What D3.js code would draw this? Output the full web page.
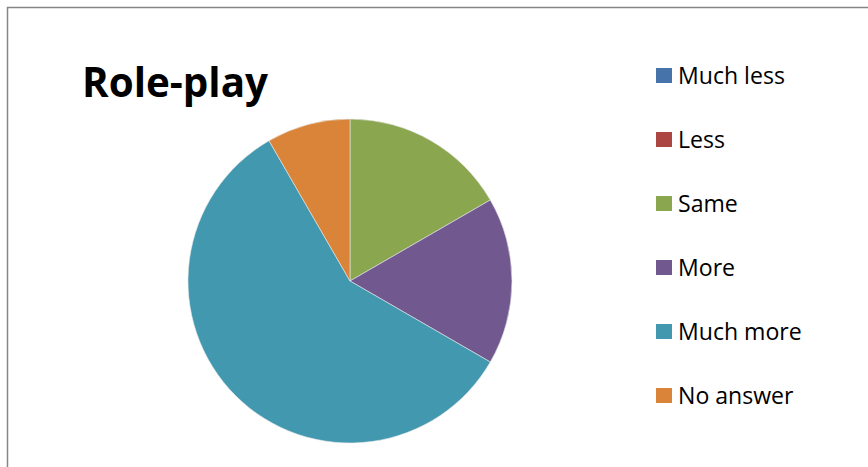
<!DOCTYPE html>
<html>
<head>
<meta charset="utf-8">
<script src="https://cdn.jsdelivr.net/npm/d3@7"></script>
<style>
  body { margin: 0; background: #fff; }
  svg { display: block; font-family: "Open Sans", "Liberation Sans", sans-serif; }
</style>
</head>
<body>
<script>
// data (shares out of 12 answers)
const categories = ["Much less", "Less", "Same", "More", "Much more", "No answer"];
const counts = [0, 0, 2, 2, 7, 1];
const colours = ["#4674AA", "#AC4643", "#8AA64E", "#71588F", "#4298AF", "#DA8439"];
const title = "Role-play";

const w = 868, h = 467;
const svg = d3.select("body").append("svg")
  .attr("width", w)
  .attr("height", h);

// outer frame (right and bottom are cut off in the picture)
svg.append("path")
  .attr("d", "M7.5," + h + "V7.5H" + w)
  .attr("fill", "none")
  .attr("stroke", "#868686")
  .attr("stroke-width", 1.5);

// title, fitted to the width seen in the picture
const t = svg.append("text")
  .attr("x", 82)
  .attr("y", 97)
  .attr("font-weight", "bold")
  .attr("font-size", 36)
  .attr("fill", "#000")
  .text(title);
let tw = t.node().getComputedTextLength();
t.attr("font-size", 36 * 186 / tw);

// pie
const cx = 350, cy = 281, r = 162;
const color = d3.scaleOrdinal().domain(categories).range(colours);
const pie = d3.pie().sort(null).value(d => d.v);
const arc = d3.arc().innerRadius(0).outerRadius(r);
const rows = categories.map((c, i) => ({ c: c, v: counts[i] }));

svg.append("g")
  .attr("transform", "translate(" + cx + "," + cy + ")")
  .selectAll("path")
  .data(pie(rows).filter(d => d.data.v > 0))
  .join("path")
  .attr("d", arc)
  .attr("fill", d => color(d.data.c))
  .attr("stroke", "#e8e8e8")
  .attr("stroke-width", 0.6);

// legend
const ly = d3.scalePoint().domain(categories).range([76, 396]);
const leg = svg.append("g")
  .selectAll("g")
  .data(categories)
  .join("g")
  .attr("transform", d => "translate(656," + ly(d) + ")");

leg.append("rect")
  .attr("x", 0)
  .attr("y", -8)
  .attr("width", 16)
  .attr("height", 15)
  .attr("fill", d => color(d));

const lt = leg.append("text")
  .attr("x", 22)
  .attr("y", 8)
  .attr("font-size", 22)
  .attr("fill", "#000")
  .text(d => d);

// fit legend font so "Much less" spans ~107px
let lw = lt.filter(d => d === "Much less").node().getComputedTextLength();
lt.attr("font-size", 22 * 107 / lw);
</script>
</body>
</html>
